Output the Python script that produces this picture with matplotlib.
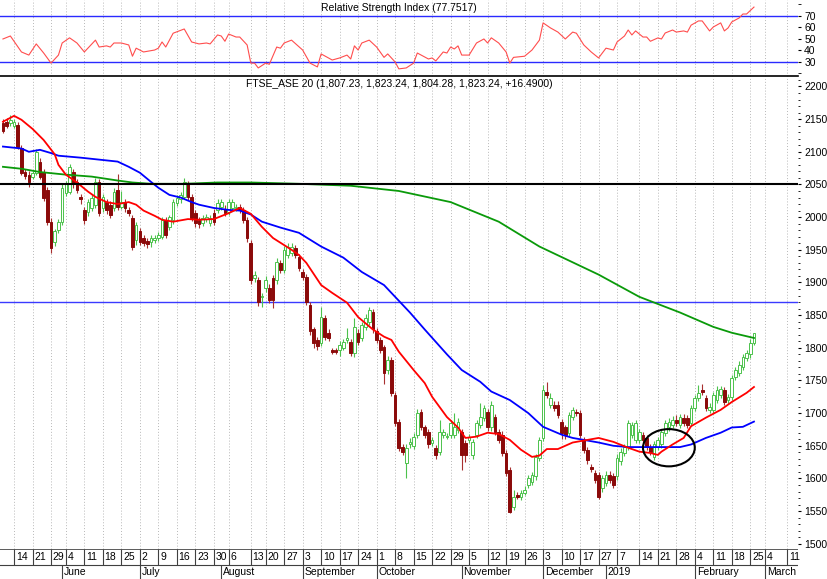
#!/usr/bin/env python3
"""FTSE_ASE 20 daily candles with moving averages and RSI"""

import matplotlib
matplotlib.use("Agg")
import matplotlib.pyplot as plt
from matplotlib.patches import Ellipse

plt.rcParams['font.family'] = ['Liberation Sans Narrow', 'DejaVu Sans Condensed',
                               'Liberation Sans', 'DejaVu Sans']

# daily candles (bar index 0 = first bar in view, last = 25 Feb 2019)
opens = [2144, 2146, 2144, 2140, 2141, 2106, 2069, 2065, 2062, 2068,
         2085, 2069, 2042, 1993, 1962, 1981, 1993, 2037, 2039, 2069,
         2053, 2031, 2011, 2008, 2014, 2019, 2053, 2014, 2023, 2019,
         2014, 2042, 2016, 2023, 2011, 1999, 1965, 1978, 1968, 1964,
         1962, 1965, 1968, 1970, 1996, 1985, 1996, 2022, 2027, 2031,
         2050, 2031, 2007, 1996, 1991, 1997, 1991, 2007, 2011, 2016,
         2013, 2008, 2014, 2014, 2016, 2011, 1996, 1961, 1907, 1904,
         1877, 1892, 1892, 1907, 1904, 1930, 1919, 1942, 1945, 1953,
         1939, 1916, 1909, 1866, 1828, 1812, 1808, 1846, 1823, 1797,
         1797, 1797, 1800, 1812, 1809, 1792, 1823, 1815, 1832, 1840,
         1855, 1825, 1812, 1801, 1766, 1782, 1728, 1687, 1648, 1624,
         1652, 1650, 1667, 1702, 1678, 1671, 1655, 1647, 1641, 1667,
         1664, 1667, 1667, 1674, 1671, 1655, 1659, 1636, 1667, 1682,
         1693, 1702, 1678, 1694, 1671, 1667, 1639, 1613, 1557, 1575,
         1572, 1578, 1590, 1595, 1603, 1632, 1662, 1733, 1713, 1713,
         1713, 1687, 1678, 1670, 1694, 1702, 1700, 1659, 1644, 1618,
         1609, 1605, 1586, 1593, 1606, 1604, 1603, 1626, 1639, 1648,
         1667, 1659, 1659, 1667, 1662, 1648, 1633, 1648, 1652, 1670,
         1678, 1682, 1690, 1682, 1693, 1693, 1685, 1708, 1723, 1736,
         1723, 1705, 1705, 1720, 1728, 1736, 1720, 1725, 1756, 1762,
         1771, 1785, 1790, 1807.23]
highs = [2150, 2152, 2156, 2150, 2146, 2110, 2074, 2070, 2071, 2104,
         2090, 2073, 2046, 1998, 1982, 1997, 2050, 2056, 2082, 2074,
         2058, 2036, 2016, 2028, 2035, 2060, 2058, 2036, 2027, 2024,
         2044, 2066, 2040, 2028, 2015, 2003, 1992, 1983, 1972, 1968,
         1972, 1972, 1977, 2000, 2000, 2004, 2028, 2034, 2038, 2060,
         2055, 2035, 2011, 2000, 2004, 2005, 2004, 2012, 2027, 2028,
         2018, 2028, 2028, 2020, 2020, 2015, 2000, 1965, 1918, 1908,
         1884, 1910, 1897, 1912, 1938, 1935, 1956, 1960, 1960, 1958,
         1944, 1920, 1913, 1870, 1832, 1816, 1862, 1850, 1828, 1800,
         1800, 1810, 1813, 1830, 1814, 1846, 1828, 1840, 1851, 1863,
         1860, 1830, 1816, 1805, 1787, 1786, 1732, 1691, 1652, 1652,
         1662, 1669, 1706, 1707, 1682, 1675, 1664, 1651, 1690, 1676,
         1669, 1690, 1700, 1692, 1676, 1659, 1668, 1661, 1690, 1716,
         1713, 1706, 1718, 1699, 1675, 1672, 1643, 1617, 1582, 1580,
         1583, 1588, 1606, 1610, 1638, 1664, 1743, 1748, 1731, 1718,
         1718, 1691, 1682, 1702, 1710, 1707, 1704, 1663, 1648, 1622,
         1613, 1610, 1606, 1611, 1611, 1608, 1637, 1646, 1653, 1690,
         1687, 1690, 1676, 1671, 1666, 1652, 1657, 1664, 1676, 1690,
         1693, 1695, 1697, 1699, 1698, 1697, 1713, 1728, 1743, 1745,
         1727, 1715, 1732, 1741, 1742, 1740, 1730, 1759, 1771, 1779,
         1791, 1797, 1813, 1823.24]
lows = [2128, 2136, 2140, 2136, 2104, 2064, 2058, 2046, 2058, 2064,
        2058, 2024, 1988, 1945, 1956, 1976, 1988, 2032, 2035, 2045,
        2037, 2020, 1990, 2002, 2010, 2014, 2002, 2008, 2005, 1998,
        2010, 2011, 2012, 2008, 2002, 1950, 1958, 1958, 1956, 1952,
        1955, 1960, 1963, 1966, 1968, 1980, 1990, 2017, 2022, 2027,
        2026, 1994, 1985, 1984, 1986, 1993, 1986, 1988, 2006, 2011,
        2001, 2003, 2010, 2010, 2006, 1991, 1962, 1898, 1900, 1864,
        1863, 1886, 1868, 1861, 1898, 1914, 1914, 1937, 1940, 1937,
        1917, 1904, 1865, 1820, 1800, 1797, 1803, 1812, 1810, 1790,
        1790, 1788, 1796, 1808, 1787, 1786, 1804, 1810, 1827, 1835,
        1823, 1807, 1792, 1745, 1760, 1726, 1680, 1642, 1636, 1601,
        1647, 1645, 1662, 1674, 1662, 1647, 1650, 1630, 1636, 1662,
        1660, 1662, 1662, 1669, 1613, 1625, 1654, 1630, 1662, 1677,
        1688, 1673, 1673, 1666, 1654, 1634, 1604, 1547, 1552, 1568,
        1567, 1574, 1585, 1590, 1598, 1627, 1657, 1723, 1708, 1703,
        1692, 1660, 1660, 1665, 1690, 1696, 1662, 1639, 1622, 1610,
        1593, 1568, 1580, 1588, 1593, 1585, 1598, 1621, 1634, 1643,
        1662, 1654, 1654, 1654, 1643, 1636, 1628, 1643, 1647, 1665,
        1673, 1677, 1680, 1677, 1680, 1677, 1680, 1703, 1718, 1728,
        1703, 1700, 1700, 1715, 1723, 1712, 1714, 1720, 1751, 1757,
        1766, 1780, 1785, 1804.28]
closes = [2132, 2140, 2149, 2146, 2108, 2068, 2063, 2053, 2068, 2099,
          2062, 2029, 1993, 1953, 1978, 1993, 2045, 2050, 2077, 2050,
          2042, 2027, 1996, 2023, 2030, 2054, 2007, 2031, 2011, 2004,
          2039, 2016, 2023, 2014, 2007, 1955, 1988, 1962, 1961, 1959,
          1968, 1968, 1973, 1996, 1973, 2000, 2023, 2030, 2034, 2054,
          2031, 1999, 1991, 1990, 1999, 2000, 1999, 1993, 2022, 2023,
          2007, 2023, 2023, 2016, 2011, 1996, 1968, 1904, 1912, 1870,
          1880, 1904, 1873, 1873, 1932, 1919, 1950, 1955, 1955, 1942,
          1922, 1909, 1870, 1825, 1808, 1802, 1847, 1817, 1815, 1794,
          1794, 1805, 1809, 1815, 1792, 1832, 1809, 1835, 1846, 1858,
          1828, 1812, 1797, 1762, 1782, 1731, 1685, 1647, 1641, 1647,
          1656, 1664, 1700, 1679, 1667, 1652, 1659, 1636, 1671, 1671,
          1665, 1685, 1679, 1687, 1636, 1636, 1664, 1656, 1685, 1694,
          1708, 1678, 1713, 1671, 1659, 1639, 1609, 1549, 1572, 1572,
          1578, 1583, 1601, 1606, 1633, 1659, 1736, 1728, 1723, 1708,
          1697, 1670, 1667, 1697, 1705, 1700, 1667, 1644, 1628, 1615,
          1598, 1572, 1601, 1606, 1598, 1590, 1632, 1641, 1648, 1685,
          1682, 1685, 1671, 1659, 1648, 1641, 1652, 1659, 1671, 1685,
          1687, 1690, 1685, 1694, 1685, 1682, 1708, 1723, 1731, 1733,
          1708, 1710, 1727, 1736, 1737, 1717, 1725, 1754, 1766, 1774,
          1786, 1792, 1806.75, 1823.24]

# moving averages (bar index, value)
ma_short_idx = [0, 3, 5, 8, 11, 14, 15, 17, 20, 23, 25, 28, 31, 34, 36, 38, 41,
                43, 46, 50, 53, 57, 61, 64, 67, 70, 73, 78, 80, 82, 86, 89, 93,
                96, 100, 103, 105, 107, 111, 114, 116, 120, 123, 125, 128, 131,
                134, 137, 140, 143, 145, 147, 150, 154, 158, 161, 165, 169, 172,
                175, 177, 178, 181, 184, 186, 190, 194, 197, 201, 203]
ma_short = [2146, 2155, 2149, 2135, 2118, 2096, 2080, 2065, 2053, 2039, 2031,
            2023, 2020, 2023, 2019, 2010, 2002, 1996, 1993, 1997, 1996, 1997,
            2006, 2014, 2005, 1985, 1968, 1950, 1942, 1930, 1896, 1884, 1869,
            1847, 1828, 1817, 1812, 1794, 1766, 1746, 1725, 1694, 1678, 1662,
            1664, 1670, 1668, 1659, 1644, 1633, 1635, 1645, 1645, 1655, 1659,
            1662, 1656, 1647, 1641, 1639, 1636, 1641, 1652, 1662, 1680, 1693,
            1705, 1717, 1731, 1740]
ma_mid_idx = [0, 5, 7, 10, 13, 15, 21, 26, 31, 34, 37, 40, 42, 45, 48, 51, 53,
              57, 61, 64, 67, 70, 75, 80, 86, 92, 97, 103, 106, 110, 114,
              120, 124, 129, 132, 137, 142, 146, 151, 154, 158, 161, 165, 169,
              178, 183, 186, 190, 194, 197, 200, 203]
ma_mid = [2108, 2105, 2100, 2103, 2098, 2094, 2091, 2088, 2085, 2077, 2068,
          2054, 2045, 2034, 2030, 2023, 2019, 2014, 2011, 2010, 2004, 1993,
          1984, 1976, 1955, 1938, 1916, 1896, 1878, 1854, 1828, 1790,
          1766, 1748, 1733, 1720, 1700, 1679, 1667, 1662, 1658, 1655, 1650,
          1648, 1648, 1648, 1652, 1662, 1670, 1678, 1679, 1687]
ma_long_idx = [0, 5, 10, 17, 24, 31, 35, 40, 49, 58, 67, 80, 94, 107, 121, 134,
               145, 161, 172, 183, 192, 197, 203]
ma_long = [2077, 2074, 2069, 2065, 2062, 2056, 2053, 2051, 2051, 2053, 2053,
           2051, 2048, 2040, 2023, 1993, 1955, 1912, 1878, 1854, 1832, 1823,
           1815]

# RSI (bar index, value)
rsi_idx = [0, 2, 5, 7, 9, 11, 13, 15, 16, 18, 20, 22, 25, 26, 28, 29, 30, 32,
           34, 35, 36, 38, 41, 42, 43, 44, 46, 49, 51, 53, 55, 56, 58, 59, 60,
           61, 63, 64, 66, 67, 68, 69, 71, 72, 74, 75, 76, 78, 81, 83, 85, 86,
           88, 89, 91, 93, 94, 95, 96, 97, 99, 101, 103, 104, 106, 107, 109,
           111, 112, 115, 116, 117, 119, 120, 121, 122, 123, 124, 126, 128,
           130, 131, 132, 134, 136, 137, 138, 141, 143, 145, 146, 148, 150,
           152, 154, 155, 157, 159, 161, 163, 165, 166, 168, 169, 170, 171,
           173, 174, 175, 177, 178, 179, 181, 182, 184, 185, 186, 188, 189,
           191, 192, 194, 195, 196, 197, 199, 200, 201, 203]
rsi = [50, 52.6, 38.7, 36, 45.7, 37.8, 29, 36, 46.5, 51, 46.5, 38.7, 49, 43,
       44, 43, 46.5, 46.5, 44.8, 35, 42, 38.7, 40.4, 42, 47.4, 43, 55, 58.7,
       47.4, 45.7, 46.5, 45.7, 53.5, 52.6, 48, 54.3, 51.7, 51.7, 44.8, 29, 29,
       24.8, 29, 28, 43, 42, 46.5, 49, 40.4, 29, 25.7, 37, 33.5, 31.7, 33.5,
       36, 32.6, 44, 40.4, 46.5, 49, 43, 34, 37, 30, 24, 24.8, 29, 37.8, 32.6,
       33.5, 30.9, 38.7, 37.8, 43, 41.3, 44, 36, 36, 46.5, 50, 46.5, 51, 46.5,
       38.7, 29, 34, 35, 40.4, 49, 64, 59.6, 56, 50, 56, 55, 44.8, 38.7, 33.5,
       42, 40.4, 47.4, 52.6, 57.8, 53.5, 57, 51.7, 51.7, 48, 50.9, 50, 55.2,
       57.8, 56, 57, 56, 62, 65.7, 65.7, 57, 60.4, 64, 57, 59.6, 64.8, 68.3,
       71.7, 71.7, 77.7517]

support_level = 1870
resistance_level = 2050

# date axis: first bar of each week and its day-of-month label
week_idx = [3, 8, 13, 17, 22, 27, 32, 37, 42, 47, 52, 57, 61, 67, 71, 76, 81,
            86, 91, 96, 101, 106, 111, 116, 121, 126, 131, 136, 141, 146, 151,
            156, 161, 166, 172, 177, 182, 187, 192, 197, 202, 206, 212]
week_labels = ['14', '21', '29', '4', '11', '18', '25', '2', '9', '16', '23',
               '30', '6', '13', '20', '27', '3', '10', '17', '24', '1', '8',
               '15', '22', '29', '5', '12', '19', '26', '3', '10', '17', '27',
               '7', '14', '21', '28', '4', '11', '18', '25', '4', '11']
month_idx = [16, 37, 59, 81, 101, 124, 146, 163, 187, 206]
month_labels = ['June', 'July', 'August', 'September', 'October', 'November',
                'December', '2019', 'February', 'March']

W, H = 828, 579
fig = plt.figure(figsize=(W / 100, H / 100), dpi=100)
right = 798 / W
ax_rsi = fig.add_axes([0, 1 - 76 / H, right, 76 / H])
ax = fig.add_axes([0, 1 - 549 / H, right, (549 - 76) / H], sharex=ax_rsi)
ax_d = fig.add_axes([0, 0, right, 1 - 549 / H], sharex=ax_rsi)

xmin, xmax = -0.8, 214.9
grid_kw = dict(color='#b8b8b8', linestyle=(0, (1, 2)), linewidth=0.7, zorder=0)

# --- RSI panel
for a in (ax_rsi, ax):
    for w in week_idx:
        a.axvline(w, **grid_kw)
ax_rsi.plot(rsi_idx, rsi, color='#ff4d4d', linewidth=0.8, zorder=3)
ax_rsi.axhline(70, color='#2a2aff', linewidth=1.0, zorder=2)
ax_rsi.axhline(30, color='#2a2aff', linewidth=1.0, zorder=2)
ax_rsi.set_ylim(17.8, 83.9)
ax_rsi.set_xlim(xmin, xmax)
ax_rsi.yaxis.tick_right()
ax_rsi.set_yticks([30, 40, 50, 60, 70])
ax_rsi.set_yticks([20, 80], minor=True)
ax_rsi.tick_params(axis='y', which='both', direction='out', length=2.5,
                   labelsize=7.5, pad=2)
ax_rsi.tick_params(axis='x', which='both', bottom=False, labelbottom=False)
for s in ax_rsi.spines.values():
    s.set_visible(False)
ax_rsi.text(0.5, 0.9, 'Relative Strength Index (77.7517)', transform=ax_rsi.transAxes,
            ha='center', va='center', fontsize=7.5)

# --- price panel
bull_edge = '#4cc24c'
bear_col = '#8b0a0a'
for i, (o, h, l, c) in enumerate(zip(opens, highs, lows, closes)):
    up = c >= o
    ax.vlines(i, l, h, color=bull_edge if up else '#a83030', linewidth=0.8, zorder=3)
    ax.bar(i, abs(c - o) if abs(c - o) > 0.8 else 0.8, bottom=min(o, c), width=0.72,
           facecolor='white' if up else bear_col,
           edgecolor=bull_edge if up else bear_col, linewidth=0.7, zorder=4)

ax.plot(ma_long_idx, ma_long, color='#0a9a0a', linewidth=1.3, zorder=5)
ax.plot(ma_mid_idx, ma_mid, color='#0000ff', linewidth=1.3, zorder=5)
ax.plot(ma_short_idx, ma_short, color='#ff0000', linewidth=1.3, zorder=5)
ax.axhline(resistance_level, color='black', linewidth=1.5, zorder=6)
ax.axhline(support_level, color='#3a3aff', linewidth=1.0, zorder=2)

ax.add_patch(Ellipse((180, 1647), 14, 57, fill=False, edgecolor='black',
                     linewidth=1.5, zorder=7))

ax.set_ylim(1492, 2216)
ax.set_xlim(xmin, xmax)
ax.yaxis.tick_right()
ax.set_yticks(range(1500, 2201, 50))
ax.set_yticks(range(1500, 2211, 10), minor=True)
ax.tick_params(axis='y', which='major', direction='out', length=2.5, labelsize=7.5, pad=2)
ax.tick_params(axis='y', which='minor', direction='out', length=1.2)
ax.tick_params(axis='x', which='both', bottom=False, labelbottom=False)
for name, s in ax.spines.items():
    s.set_visible(name == 'top')
ax.spines['top'].set_linewidth(1.2)
ax.text(0.5, 0.983, 'FTSE_ASE 20 (1,807.23, 1,823.24, 1,804.28, 1,823.24, +16.4900)',
        transform=ax.transAxes, ha='center', va='center', fontsize=7.5)

# --- date axis
ax_d.set_xlim(xmin, xmax)
ax_d.set_ylim(0, 1)
ax_d.axis('off')
mid = 14 / 30
ax_d.axhline(0.985, color='#404040', linewidth=1.2)
ax_d.axhline(mid, color='#404040', linewidth=0.8)
for w, lab in zip(week_idx, week_labels):
    ax_d.vlines(w, mid, 1, color='#404040', linewidth=0.8)
    ax_d.text(w + 0.5, (mid + 1) / 2, lab, ha='left', va='center', fontsize=7.5)
for m, lab in zip(month_idx, month_labels):
    ax_d.vlines(m, 0, mid, color='#404040', linewidth=0.8)
    ax_d.text(m + 0.5, mid / 2, lab, ha='left', va='center', fontsize=7.5)

fig.savefig('out.png', dpi=100)
